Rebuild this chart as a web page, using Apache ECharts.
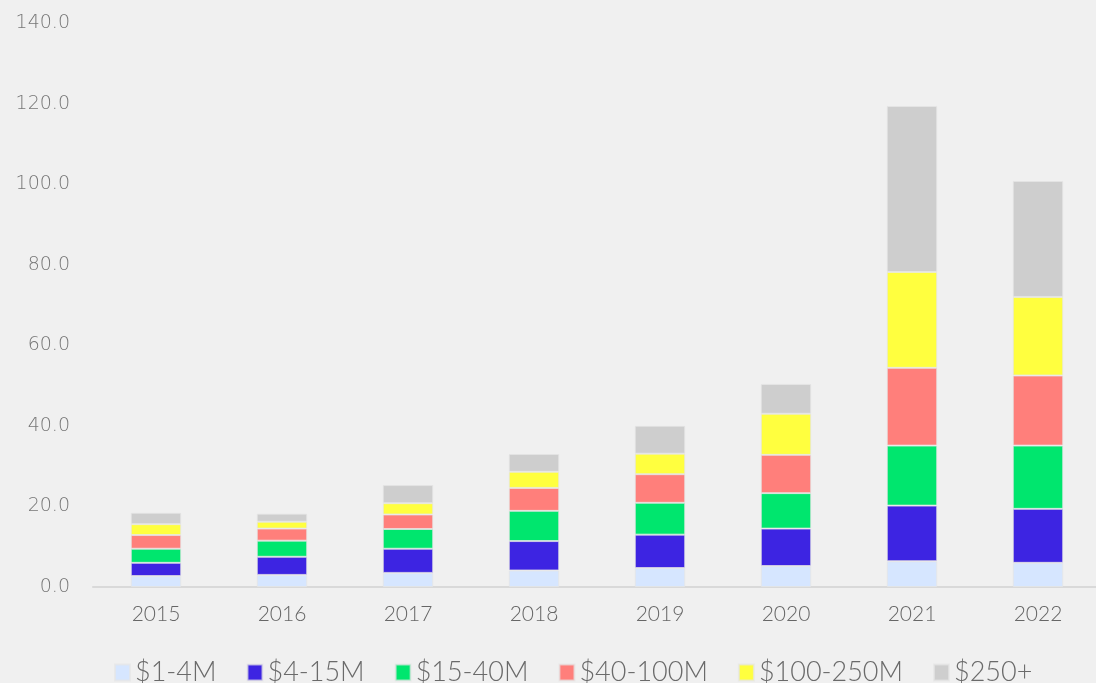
<!DOCTYPE html>
<html>
<head>
<meta charset="utf-8">
<script src="https://cdn.jsdelivr.net/npm/echarts@6/dist/echarts.min.js"></script>
<style>
  html, body { margin: 0; padding: 0; background: #f0f0f0; }
  #divChart { width: 1096px; height: 683px; }
</style>
</head>
<body>
<div id="divChart"></div>
<script>
// values
var arrYears = ['2015', '2016', '2017', '2018', '2019', '2020', '2021', '2022'];
var arrNames = ['$1-4M', '$4-15M', '$15-40M', '$40-100M', '$100-250M', '$250+'];
var arrColors = ['#d6e6ff', '#3d24e2', '#00e66e', '#ff7f7b', '#ffff3f', '#cecece'];

var arr1to4 = [2.7, 3.0, 3.5, 4.1, 4.7, 5.2, 6.4, 6.0];
var arr4to15 = [3.3, 4.5, 6.0, 7.3, 8.3, 9.3, 13.8, 13.4];
var arr15to40 = [3.5, 4.0, 4.9, 7.5, 7.9, 8.8, 14.9, 15.7];
var arr40to100 = [3.4, 3.0, 3.6, 5.7, 7.1, 9.5, 19.3, 17.4];
var arr100to250 = [2.7, 1.7, 2.8, 4.0, 5.1, 10.2, 23.8, 19.5];
var arr250plus = [2.8, 2.0, 4.5, 4.4, 6.9, 7.4, 41.2, 28.8];

var arrSeriesData = [arr1to4, arr4to15, arr15to40, arr40to100, arr100to250, arr250plus];

var chartBar = echarts.init(document.getElementById('divChart'));

var arrSeries = [];
for (var intI = 0; intI < arrNames.length; intI++) {
    arrSeries.push({
        name: arrNames[intI],
        type: 'bar',
        stack: 'total',
        barWidth: '40%',
        data: arrSeriesData[intI],
        itemStyle: {
            color: arrColors[intI],
            borderColor: 'rgba(230,230,230,0.7)',
            borderWidth: 1
        }
    });
};

var optBar = {
    backgroundColor: '#f0f0f0',
    animation: false,
    textStyle: { fontFamily: 'Lato, sans-serif' },
    grid: { left: 93, width: 1008, top: 23, bottom: 96, outerBoundsMode: 'none' },
    legend: {
        top: 654,
        left: 109,
        itemWidth: 15,
        itemHeight: 16,
        itemGap: 30,
        icon: 'rect',
        textStyle: { fontSize: 27, color: '#6a6a6a', fontWeight: 300, fontFamily: 'Lato, sans-serif' },
        data: arrNames
    },
    xAxis: {
        type: 'category',
        data: arrYears,
        axisLine: { lineStyle: { color: '#d9d9d9', width: 2 } },
        axisTick: { show: false },
        axisLabel: { fontSize: 21, color: '#666', fontWeight: 300, margin: 17 }
    },
    yAxis: {
        type: 'value',
        min: 0,
        max: 140,
        interval: 20,
        splitLine: { show: false },
        axisLine: { show: false },
        axisTick: { show: false },
        axisLabel: {
            fontSize: 19,
            color: '#777',
            fontFamily: 'DejaVu Sans, sans-serif',
            fontWeight: 300,
            margin: 23,
            formatter: function(v) { return v.toFixed(1); }
        }
    },
    series: arrSeries
};
chartBar.setOption(optBar);
</script>
</body>
</html>
